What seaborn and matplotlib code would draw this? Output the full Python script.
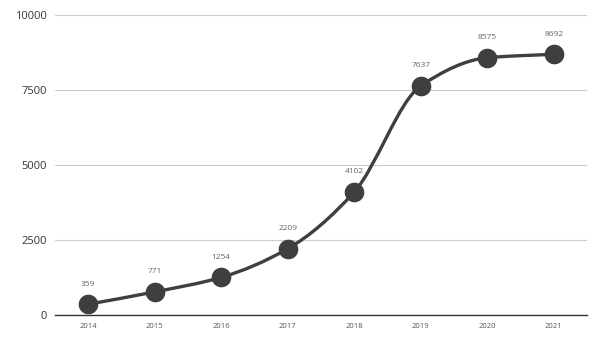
import numpy as np
import matplotlib
matplotlib.use("Agg")
import matplotlib.pyplot as plt
from matplotlib.path import Path
from matplotlib.patches import PathPatch
import seaborn as sns
import pandas as pd

years = ["2014", "2015", "2016", "2017", "2018", "2019", "2020", "2021"]
values = [359, 771, 1254, 2209, 4102, 7637, 8575, 8692]
y_ticks = [0, 2500, 5000, 7500, 10000]

sns.set_style("white")
plt.rcParams['font.family'] = ['Open Sans', 'DejaVu Sans']

fig = plt.figure(figsize=(6.01, 3.41), dpi=100)
ax = fig.add_axes([55/601, 26/341, 532/601, 300/341])

df = pd.DataFrame({"x": np.arange(len(years)), "y": values})

# smooth monotone curve through the points (Bezier rendering)
x = df["x"].to_numpy(float)
y = df["y"].to_numpy(float)
d = np.diff(y) / np.diff(x)
m = np.zeros_like(y)
m[0], m[-1] = d[0], d[-1]
for i in range(1, len(y) - 1):
    if d[i - 1] * d[i] <= 0:
        m[i] = 0
    else:
        m[i] = 2 / (1 / d[i - 1] + 1 / d[i])
verts = [(x[0], y[0])]
codes = [Path.MOVETO]
for i in range(len(x) - 1):
    h = x[i + 1] - x[i]
    verts += [(x[i] + h / 3, y[i] + m[i] * h / 3),
              (x[i + 1] - h / 3, y[i + 1] - m[i + 1] * h / 3),
              (x[i + 1], y[i + 1])]
    codes += [Path.CURVE4] * 3
ax.add_patch(PathPatch(Path(verts, codes), facecolor="none", edgecolor="#3f3f3f",
                       lw=2.4, zorder=3, capstyle="round"))

sns.scatterplot(data=df, x="x", y="y", ax=ax, s=200, color="#3f3f3f",
                edgecolor="#3f3f3f", linewidth=0, zorder=4, legend=False)

for xi, yi in zip(x, y):
    ax.annotate(f"{int(yi)}", (xi, yi), xytext=(0, 12), textcoords="offset points",
                ha="center", va="bottom", fontsize=6, color="#666666")

ax.set_xlim(-0.5, len(years) - 0.5)
ax.set_ylim(0, 10000)
ax.set_xticks(np.arange(len(years)))
ax.set_xticklabels(years, fontsize=5.5, color="#555555")
ax.set_yticks(y_ticks)
ax.set_yticklabels([str(v) for v in y_ticks], fontsize=8, color="#333333")
ax.tick_params(axis="both", length=0)
ax.tick_params(axis="x", pad=6)
ax.tick_params(axis="y", pad=6)
ax.grid(axis="y", color="#cccccc", lw=0.8)
ax.set_axisbelow(True)
for s in ["top", "right", "left"]:
    ax.spines[s].set_visible(False)
ax.spines["bottom"].set_color("#333333")
ax.spines["bottom"].set_linewidth(1.0)
ax.spines["bottom"].set_zorder(2)
ax.set_xlabel("")
ax.set_ylabel("")

fig.savefig("out.png", dpi=100)
